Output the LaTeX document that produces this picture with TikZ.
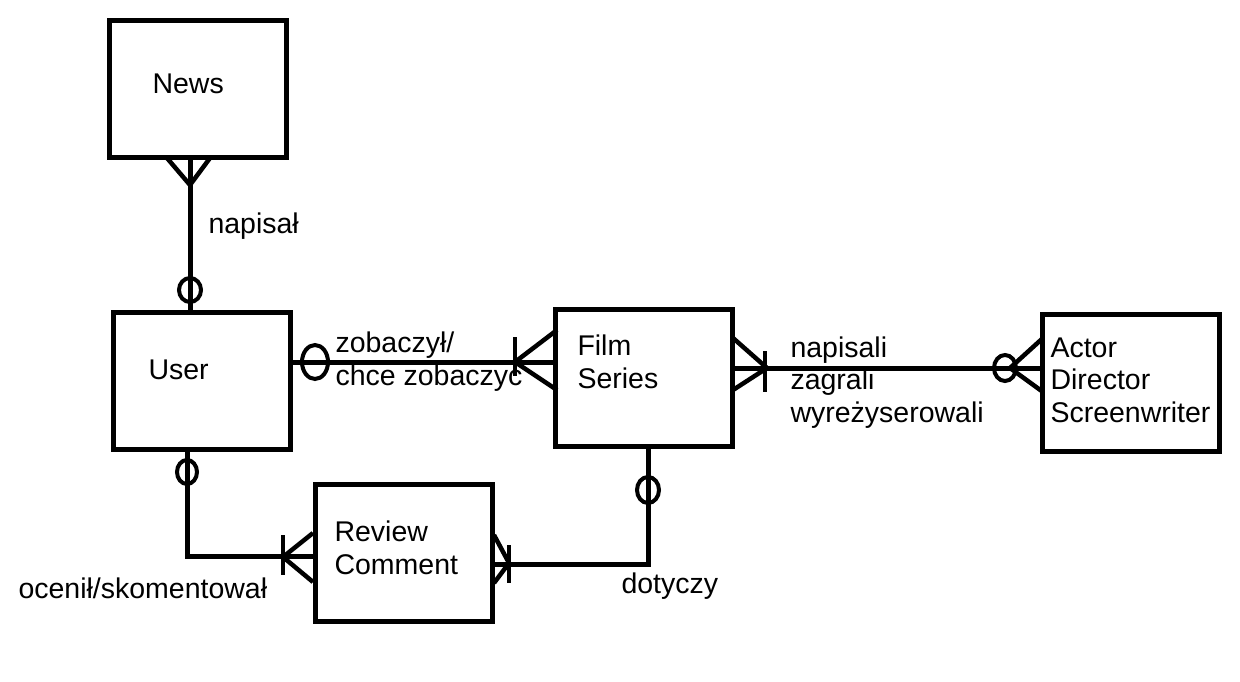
\documentclass[tikz,border=0pt]{standalone}
\usepackage{fontspec}
\setmainfont{Liberation Sans}
\usepackage{tikz}

\begin{document}
\begin{tikzpicture}[x=1pt, y=-1pt, line width=5pt,
	entity/.style = {draw, minimum width=177pt, minimum height=137pt, inner sep=0pt},
	word/.style = {anchor=base west, inner sep=0pt, align=left, font=\fontsize{28.5}{32.5}\selectfont},
	ring/.style = {line width=4pt},
	foot/.style = {line width=4.5pt}]
	\useasboundingbox[fill=white] (0,0) rectangle (1240,681);
	% entities
	\node[entity] (news) at (197.5,88.5) {};
	\node[entity] (user) at (201.5,380.5) {};
	\node[entity] (film) at (644,378) {};
	\node[entity] (crew) at (1131,382.5) {};
	\node[entity] (review) at (403.5,553) {};
	\node[word] (newsT) at (150,93) {News};
	\node[word] (userT) at (146,379) {User};
	\node[word] (filmT) at (575,388) {Film\\Series};
	\node[word] (crewT) at (1048,422) {Actor\\Director\\Screenwriter};
	\node[word] (reviewT) at (332,574) {Review\\Comment};
	% relations
	\coordinate (ur) at (187,556);
	\coordinate (fr) at (648,564);
	\draw (news.south -| 190,0) -- (user.north -| 190,0);
	\draw (user.east |- 0,362) -- (film.west |- 0,362);
	\draw (film.east |- 0,368) -- (crew.west |- 0,368);
	\draw (user.south -| ur) -- (ur) -- (review.west |- ur);
	\draw (film.south -| fr) -- (fr) -- (review.east |- fr);
	\node[word] (wrote) at (206,233) {napisał};
	\node[word] (seen) at (333,385) {zobaczył/\\chce zobaczyc};
	\node[word] (made) at (788,422) {napisali\\zagrali\\wyreżyserowali};
	\node[word] (rated) at (16,598) {ocenił/skomentował};
	\node[word] (about) at (619,593) {dotyczy};
	% ends
	\draw[foot] (167,158) -- (190,185) -- (210,158);
	\draw[ring] (190,290) ellipse [x radius=11, y radius=12];
	\draw[ring] (315,362) ellipse [x radius=13, y radius=17];
	\draw[foot] (557,330) -- (515,362) -- (557,390);
	\draw[foot] (515,337) -- (515,376);
	\draw[foot] (733,338) -- (767,368) -- (733,390);
	\draw[foot] (765,351) -- (765,392);
	\draw[ring] (1005,368) ellipse [x radius=11, y radius=13];
	\draw[foot] (1043,338) -- (1010,368) -- (1043,392);
	\draw[ring] (187,472) ellipse [x radius=10, y radius=12];
	\draw[foot] (313,533) -- (283,557) -- (313,582);
	\draw[foot] (283,535) -- (283,575);
	\draw[ring] (648,490) ellipse [x radius=11, y radius=13];
	\draw[foot] (494,535) -- (509,563) -- (494,583);
	\draw[foot] (509,545) -- (509,583);
\end{tikzpicture}
\end{document}
